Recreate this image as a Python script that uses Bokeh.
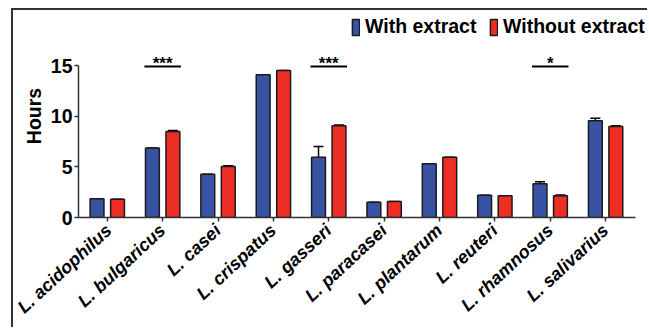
import numpy as np
from bokeh.plotting import figure
from bokeh.models import (Range1d, FixedTicker, Whisker, TeeHead, ColumnDataSource,
                          Legend, LegendItem)
from bokeh.core.properties import value
from bokeh.embed import file_html
from bokeh.resources import INLINE

categories = ["L. acidophilus", "L. bulgaricus", "L. casei", "L. crispatus", "L. gasseri",
              "L. paracasei", "L. plantarum", "L. reuteri", "L. rhamnosus", "L. salivarius"]
with_extract = [1.85, 6.85, 4.28, 14.08, 5.95, 1.51, 5.30, 2.20, 3.32, 9.55]
with_err = [0.0, 0.0, 0.0, 0.0, 1.05, 0.0, 0.0, 0.0, 0.22, 0.25]
without_extract = [1.80, 8.50, 5.03, 14.50, 9.05, 1.58, 5.95, 2.15, 2.15, 8.98]
without_err = [0.0, 0.1, 0.08, 0.0, 0.08, 0.0, 0.0, 0.0, 0.06, 0.07]
sig_categories = ["L. bulgaricus", "L. gasseri", "L. rhamnosus"]
sig_labels = ["***", "***", "*"]
sig_level = 14.9
y_ticks = [0, 5, 10, 15]

FONT = "Liberation Sans"
BLUE = "#3953A4"
RED = "#EE2D24"
EDGE = "#333333"

idx = np.arange(len(categories))
off = 0.185
bw = 0.25
x_lo, x_hi = -0.52, 9.54

p = figure(width=636, height=319, output_backend="svg", toolbar_location=None,
           x_range=Range1d(x_lo, 9.793), y_range=Range1d(0, 20.04),
           min_border_left=65, min_border_right=0, min_border_top=4, min_border_bottom=112)
p.styles = {"margin-left": "11px", "margin-top": "8px",
            "border-left": "2px solid " + EDGE, "border-top": "2px solid " + EDGE}
p.outline_line_color = None
p.grid.visible = False

src_w = ColumnDataSource(dict(x=idx - off, top=with_extract,
                              up=np.array(with_extract) + np.array(with_err)))
src_o = ColumnDataSource(dict(x=idx + off, top=without_extract,
                              up=np.array(without_extract) + np.array(without_err)))

r_w = p.vbar(x="x", top="top", width=bw, source=src_w, fill_color=BLUE,
             line_color="#1a1a1a", line_width=1.5)
r_o = p.vbar(x="x", top="top", width=bw, source=src_o, fill_color=RED,
             line_color="#1a1a1a", line_width=1.5)

for s in (src_w, src_o):
    wk = Whisker(base="x", lower="top", upper="up", source=s, dimension="height",
                 line_color="black", line_width=1.5,
                 upper_head=TeeHead(size=10, line_color="black", line_width=1.5),
                 lower_head=None)
    p.add_layout(wk)

# significance markers
sig_x = np.array([categories.index(c) for c in sig_categories], dtype=float)
p.segment(x0=sig_x - 0.33, x1=sig_x + 0.33, y0=[sig_level] * 3, y1=[sig_level] * 3,
          line_color="black", line_width=2)
p.text(x=sig_x, y=[sig_level + 0.35] * 3, text=sig_labels, text_align="center",
       text_baseline="alphabetic", text_font=value(FONT), text_font_style="bold",
       text_font_size="17px", text_color="black")

# axes
p.xaxis.ticker = FixedTicker(ticks=list(idx))
p.xaxis.bounds = (x_lo, x_hi)
p.xaxis.major_label_overrides = {int(i): c for i, c in enumerate(categories)}
p.xaxis.major_label_orientation = 0.75
p.xaxis.major_label_text_font = FONT
p.xaxis.major_label_text_font_style = "bold italic"
p.xaxis.major_label_text_font_size = "18px"
p.xaxis.major_label_text_color = "black"
p.xaxis.major_label_standoff = 6

p.yaxis.ticker = FixedTicker(ticks=y_ticks)
p.yaxis.bounds = (0, 15)
p.yaxis.major_label_text_font = FONT
p.yaxis.major_label_text_font_style = "bold"
p.yaxis.major_label_text_font_size = "19.5px"
p.yaxis.major_label_text_color = "black"
p.yaxis.major_label_standoff = 2
p.yaxis.axis_label = "Hours"
p.yaxis.axis_label_text_font = FONT
p.yaxis.axis_label_text_font_style = "bold"
p.yaxis.axis_label_text_font_size = "19.5px"
p.yaxis.axis_label_text_color = "black"
p.yaxis.axis_label_standoff = 3

for ax in (p.xaxis, p.yaxis):
    ax.axis_line_width = 1.5
    ax.axis_line_color = EDGE
    ax.major_tick_line_width = 1.5
    ax.major_tick_line_color = EDGE
    ax.major_tick_in = 0
    ax.major_tick_out = 4
    ax.minor_tick_line_color = None

legend_style = dict(orientation="horizontal", glyph_width=9, glyph_height=20,
                    label_standoff=5, padding=0, margin=0, border_line_color=None,
                    background_fill_alpha=0, label_text_font=FONT,
                    label_text_font_style="bold", label_text_font_size="19.5px",
                    label_text_color="black")
leg1 = Legend(items=[LegendItem(label="With extract", renderers=[r_w])],
              location=(273, 179), **legend_style)
leg2 = Legend(items=[LegendItem(label="Without extract", renderers=[r_o])],
              location=(411, 179), **legend_style)
p.add_layout(leg1)
p.add_layout(leg2)

open("out.html", "w").write(file_html(p, INLINE))
